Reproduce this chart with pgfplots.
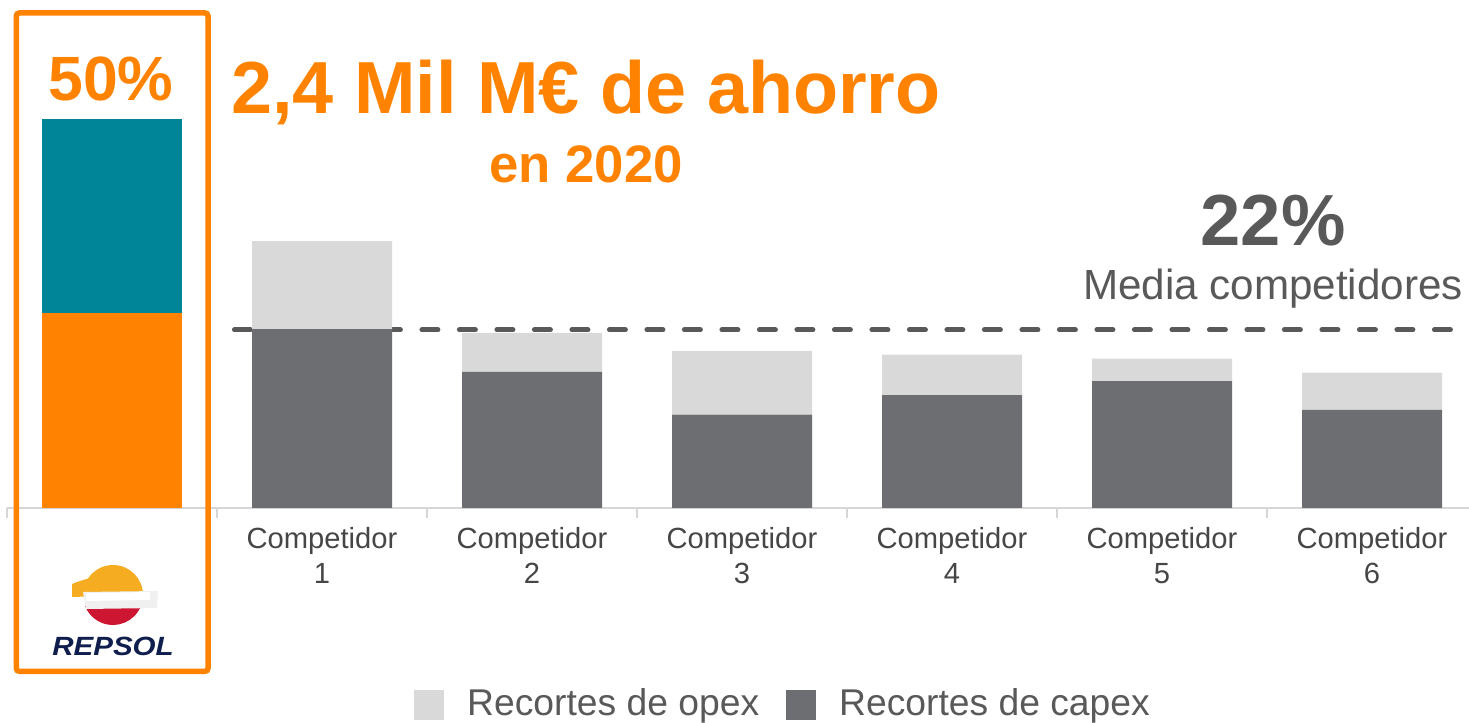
\documentclass[border=0pt]{standalone}
\usepackage{fontspec}
\setmainfont{Liberation Sans}
\usepackage{pgfplots}
\pgfplotsset{compat=1.18}
\definecolor{reporange}{RGB}{255,131,0}
\definecolor{repteal}{RGB}{0,132,152}
\definecolor{darkbar}{RGB}{109,110,114}
\definecolor{lightbar}{RGB}{217,217,217}
\definecolor{axisgray}{RGB}{214,214,214}
\definecolor{lblgray}{RGB}{70,70,70}
\definecolor{txtgray}{RGB}{89,89,89}
\definecolor{logoyellow}{RGB}{245,172,32}
\definecolor{logored}{RGB}{205,22,50}
\definecolor{navy}{RGB}{16,30,78}

\begin{document}
\begin{tikzpicture}
\useasboundingbox (0,0) rectangle (146.9mm,-72.3mm);

\begin{axis}[
  at={(0.7mm,-50.8mm)}, anchor=south west,
  scale only axis, width=146.2mm, height=49.6mm,
  xmin=-0.5, xmax=6.462, ymin=0, ymax=63.75,
  clip=false,
  axis x line*=bottom, axis y line=none,
  axis line style={draw=axisgray, line width=0.2mm, -},
  xtick={-0.5,0.5,...,5.5}, xticklabels={},
  tick align=outside, major tick length=1mm,
  tick style={draw=axisgray, line width=0.2mm},
  extra x ticks={1,2,3,4,5,6},
  extra x tick labels={{Competidor\\1},{Competidor\\2},{Competidor\\3},{Competidor\\4},{Competidor\\5},{Competidor\\6}},
  extra x tick style={major tick length=0pt, tick style={draw=none}},
  xticklabel style={font=\fontsize{8.3}{10}\selectfont, text=lblgray, align=center, yshift=-0.7mm},
  ybar stacked, bar width=14mm,
  legend columns=2, reverse legend,
  legend image code/.code={\fill[#1] (0mm,-1.5mm) rectangle (3mm,1.5mm);},
  legend style={at={(0.5301,-0.397)}, anchor=center, draw=none, fill=none,
    font=\fontsize{10.6}{12}\selectfont, text=txtgray,
    nodes={inner sep=0pt},
    /tikz/every odd column/.append style={column sep=2.3mm},
    /tikz/every even column/.append style={column sep=2.7mm}},
]
% capex
\addplot[fill=darkbar, draw=none] coordinates {(0,0) (1,23.0) (2,17.5) (3,12.0) (4,14.5) (5,16.3) (6,12.6)};
\addlegendentry{Recortes de capex}
% opex
\addplot[fill=lightbar, draw=none] coordinates {(0,0) (1,11.3) (2,5.0) (3,8.2) (4,5.2) (5,2.9) (6,4.8)};
\addlegendentry{Recortes de opex}
% Repsol 50%
\addplot[fill=reporange, draw=none, forget plot] coordinates {(0,25) (1,0) (2,0) (3,0) (4,0) (5,0) (6,0)};
\addplot[fill=repteal, draw=none, forget plot] coordinates {(0,25) (1,0) (2,0) (3,0) (4,0) (5,0) (6,0)};
% media competidores
\draw[txtgray, line width=0.5mm, line cap=round, dash pattern=on 1.6mm off 2.15mm]
  (axis cs:0.583,22.9) -- (axis cs:6.56,22.9);
\end{axis}

\begin{scope}[x=0.1mm,y=-0.1mm]
% texts
\node[anchor=base, inner sep=0, text=reporange, font=\fontsize{17.8}{20}\selectfont\bfseries] at (111,101) {50\%};
\node[anchor=base, inner sep=0, text=reporange, font=\fontsize{21}{24}\selectfont\bfseries] at (586,114) {2,4 Mil M€ de ahorro};
\node[anchor=base, inner sep=0, text=reporange, font=\fontsize{15}{18}\selectfont\bfseries] at (586,183) {en 2020};
\node[anchor=base, inner sep=0, text=txtgray, font=\fontsize{20.6}{24}\selectfont\bfseries] at (1273,246) {22\%};
\node[anchor=base, inner sep=0, text=txtgray, font=\fontsize{12}{14}\selectfont] at (1273,300) {Media competidores};
% highlight box
\draw[reporange, line width=0.55mm, rounded corners=0.3mm] (16.3,13) rectangle (208,671.3);
% logo
\fill[logoyellow] (83,595) arc[start angle=180, end angle=360, radius=30] -- cycle;
\fill[logoyellow] (72,584) .. controls (84,579) and (94,577) .. (104,576) -- (104,596) -- (72,597) -- cycle;
\fill[logored] (140.9,606) arc[start angle=21.5, end angle=158.5, radius=30] -- cycle;
\fill[white!88!gray] (83,592) -- (158,591) -- (157,608) -- (86,609) -- cycle;
\fill[white] (86,593) -- (150,592) -- (150,600) -- (86,601) -- cycle;
\node[anchor=base, inner sep=0, text=navy, xscale=1.12, transform shape, font=\fontsize{7.5}{9}\selectfont\bfseries\itshape] at (113,656) {REPSOL};
\end{scope}
\end{tikzpicture}
\end{document}
